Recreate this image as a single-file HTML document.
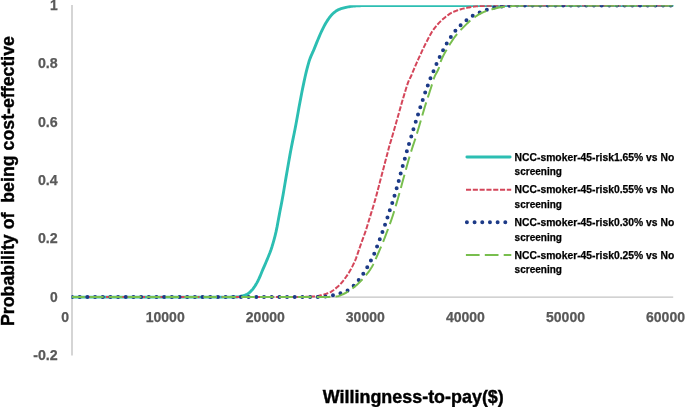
<!DOCTYPE html>
<html lang="en">
<head>
<meta charset="utf-8">
<title>Cost-effectiveness acceptability curves</title>
<style>
html,body{margin:0;padding:0;background:#fff;}
body{width:685px;height:407px;overflow:hidden;}
svg{display:block;}
text{font-family:"Liberation Sans",sans-serif;font-weight:bold;}
.tick{font-size:14.2px;fill:#595959;stroke:#595959;stroke-width:0.25px;}
.title{font-size:18.2px;fill:#000;stroke:#000;stroke-width:0.4px;}
.leg{font-size:10.6px;fill:#000;stroke:#000;stroke-width:0.25px;}
</style>
</head>
<body>
<svg width="685" height="407" viewBox="0 0 685 407">
<rect x="0" y="0" width="685" height="407" fill="#ffffff"/>
<defs><clipPath id="plot"><rect x="71.6" y="5.25" width="603.4" height="352"/></clipPath></defs>
<g stroke="#c3c3c3" stroke-width="1.4" fill="none"><line x1="72" y1="5" x2="72" y2="355.6"/><line x1="72" y1="297.1" x2="673.2" y2="297.1"/></g>
<g clip-path="url(#plot)" fill="none">
<path d="M72.0 297.10 L226.0 297.10 L227.0 297.10 L228.0 297.09 L229.0 297.09 L230.0 297.08 L231.0 297.07 L232.0 297.06 L233.0 297.05 L234.0 297.03 L235.0 297.02 L236.0 297.00 L237.0 296.94 L238.0 296.82 L239.0 296.65 L240.0 296.44 L241.0 296.20 L242.0 295.95 L243.0 295.70 L244.0 295.41 L245.0 295.06 L246.0 294.67 L247.0 294.21 L248.0 293.67 L249.0 292.95 L250.0 292.08 L251.0 291.11 L252.0 290.04 L253.0 288.80 L254.0 287.43 L255.0 285.95 L256.0 284.36 L257.0 282.60 L258.0 280.71 L259.0 278.69 L260.0 276.45 L261.0 274.01 L262.0 271.54 L263.0 269.17 L264.0 266.87 L265.0 264.58 L266.0 262.25 L267.0 259.87 L268.0 257.49 L269.0 255.06 L270.0 252.50 L271.0 249.72 L272.0 246.68 L273.0 243.37 L274.0 239.84 L275.0 236.05 L276.0 231.90 L277.0 227.13 L278.0 221.71 L279.0 216.37 L280.0 211.05 L281.0 205.95 L282.0 200.84 L283.0 195.26 L284.0 189.38 L285.0 183.37 L286.0 177.42 L287.0 171.65 L288.0 165.90 L289.0 160.20 L290.0 154.63 L291.0 149.24 L292.0 144.10 L293.0 139.14 L294.0 134.22 L295.0 129.23 L296.0 124.04 L297.0 118.58 L298.0 112.97 L299.0 107.35 L300.0 101.89 L301.0 96.65 L302.0 91.55 L303.0 86.63 L304.0 81.90 L305.0 77.29 L306.0 72.94 L307.0 68.90 L308.0 65.03 L309.0 61.53 L310.0 58.61 L311.0 56.15 L312.0 53.91 L313.0 51.70 L314.0 49.33 L315.0 46.85 L316.0 44.35 L317.0 41.88 L318.0 39.49 L319.0 37.12 L320.0 34.77 L321.0 32.50 L322.0 30.33 L323.0 28.31 L324.0 26.38 L325.0 24.54 L326.0 22.79 L327.0 21.16 L328.0 19.66 L329.0 18.23 L330.0 16.88 L331.0 15.62 L332.0 14.50 L333.0 13.52 L334.0 12.63 L335.0 11.80 L336.0 11.07 L337.0 10.43 L338.0 9.90 L339.0 9.46 L340.0 9.08 L341.0 8.74 L342.0 8.43 L343.0 8.14 L344.0 7.87 L345.0 7.60 L346.0 7.34 L347.0 7.10 L348.0 6.89 L349.0 6.70 L350.0 6.54 L351.0 6.41 L352.0 6.29 L353.0 6.18 L354.0 6.08 L355.0 5.99 L356.0 5.91 L357.0 5.85 L358.0 5.79 L359.0 5.74 L360.0 5.68 L361.0 5.64 L362.0 5.59 L363.0 5.55 L364.0 5.53 L365.0 5.51 L366.0 5.50 L672.3 5.50" stroke="#2cbeb2" stroke-width="2.9" stroke-linecap="round" stroke-linejoin="round"/>
<path d="M72.0 297.10 L295.0 297.10 L296.0 297.10 L297.0 297.09 L298.0 297.08 L299.0 297.07 L300.0 297.05 L301.0 297.03 L302.0 297.00 L303.0 296.97 L304.0 296.94 L305.0 296.90 L306.0 296.87 L307.0 296.82 L308.0 296.78 L309.0 296.73 L310.0 296.68 L311.0 296.63 L312.0 296.57 L313.0 296.52 L314.0 296.45 L315.0 296.36 L316.0 296.24 L317.0 296.10 L318.0 295.93 L319.0 295.74 L320.0 295.53 L321.0 295.30 L322.0 295.05 L323.0 294.77 L324.0 294.49 L325.0 294.18 L326.0 293.86 L327.0 293.53 L328.0 293.18 L329.0 292.81 L330.0 292.35 L331.0 291.81 L332.0 291.19 L333.0 290.50 L334.0 289.76 L335.0 288.97 L336.0 288.14 L337.0 287.28 L338.0 286.40 L339.0 285.48 L340.0 284.47 L341.0 283.39 L342.0 282.25 L343.0 281.03 L344.0 279.75 L345.0 278.42 L346.0 277.03 L347.0 275.59 L348.0 274.09 L349.0 272.50 L350.0 270.81 L351.0 269.02 L352.0 267.12 L353.0 265.12 L354.0 263.02 L355.0 260.80 L356.0 258.35 L357.0 255.60 L358.0 252.68 L359.0 249.68 L360.0 246.70 L361.0 243.87 L362.0 241.14 L363.0 238.44 L364.0 235.70 L365.0 232.87 L366.0 229.88 L367.0 226.71 L368.0 223.44 L369.0 220.14 L370.0 216.88 L371.0 213.66 L372.0 210.43 L373.0 207.17 L374.0 203.84 L375.0 200.40 L376.0 196.82 L377.0 193.12 L378.0 189.33 L379.0 185.48 L380.0 181.62 L381.0 177.77 L382.0 173.96 L383.0 170.18 L384.0 166.39 L385.0 162.61 L386.0 158.81 L387.0 154.99 L388.0 151.16 L389.0 147.24 L390.0 143.82 L391.0 140.66 L392.0 137.29 L393.0 133.84 L394.0 130.34 L395.0 126.82 L396.0 123.30 L397.0 119.80 L398.0 116.27 L399.0 112.70 L400.0 109.13 L401.0 105.59 L402.0 102.09 L403.0 98.67 L404.0 95.35 L405.0 92.08 L406.0 88.78 L407.0 85.60 L408.0 82.68 L409.0 80.17 L410.0 78.23 L411.0 76.28 L412.0 73.94 L413.0 71.45 L414.0 69.06 L415.0 66.73 L416.0 64.43 L417.0 62.15 L418.0 59.91 L419.0 57.70 L420.0 55.49 L421.0 53.30 L422.0 51.13 L423.0 49.00 L424.0 46.91 L425.0 44.87 L426.0 42.89 L427.0 40.96 L428.0 39.02 L429.0 37.11 L430.0 35.25 L431.0 33.47 L432.0 31.79 L433.0 30.25 L434.0 28.86 L435.0 27.55 L436.0 26.30 L437.0 25.11 L438.0 23.98 L439.0 22.90 L440.0 21.88 L441.0 20.90 L442.0 19.97 L443.0 19.09 L444.0 18.23 L445.0 17.40 L446.0 16.59 L447.0 15.80 L448.0 15.06 L449.0 14.36 L450.0 13.71 L451.0 13.11 L452.0 12.58 L453.0 12.12 L454.0 11.69 L455.0 11.27 L456.0 10.88 L457.0 10.50 L458.0 10.14 L459.0 9.81 L460.0 9.49 L461.0 9.19 L462.0 8.91 L463.0 8.65 L464.0 8.41 L465.0 8.19 L466.0 7.98 L467.0 7.78 L468.0 7.59 L469.0 7.40 L470.0 7.22 L471.0 7.05 L472.0 6.89 L473.0 6.74 L474.0 6.59 L475.0 6.47 L476.0 6.35 L477.0 6.25 L478.0 6.17 L479.0 6.11 L480.0 6.06 L481.0 6.02 L482.0 5.98 L483.0 5.94 L484.0 5.91 L485.0 5.88 L486.0 5.85 L487.0 5.82 L488.0 5.80 L489.0 5.77 L490.0 5.75 L491.0 5.73 L492.0 5.71 L493.0 5.69 L494.0 5.67 L495.0 5.65 L496.0 5.62 L497.0 5.60 L498.0 5.58 L499.0 5.56 L500.0 5.55 L501.0 5.53 L502.0 5.52 L503.0 5.51 L504.0 5.50 L505.0 5.50 L672.3 5.50" stroke="#d4465a" stroke-width="2" stroke-dasharray="5.1 1.7" stroke-linejoin="round"/>
<path d="M72.0 297.10 L310.0 297.10 L311.0 297.10 L312.0 297.09 L313.0 297.07 L314.0 297.05 L315.0 297.02 L316.0 296.99 L317.0 296.95 L318.0 296.91 L319.0 296.86 L320.0 296.81 L321.0 296.75 L322.0 296.69 L323.0 296.63 L324.0 296.57 L325.0 296.50 L326.0 296.41 L327.0 296.29 L328.0 296.15 L329.0 295.98 L330.0 295.79 L331.0 295.59 L332.0 295.38 L333.0 295.17 L334.0 294.96 L335.0 294.74 L336.0 294.50 L337.0 294.24 L338.0 293.97 L339.0 293.68 L340.0 293.38 L341.0 293.07 L342.0 292.73 L343.0 292.39 L344.0 292.02 L345.0 291.62 L346.0 291.19 L347.0 290.72 L348.0 290.20 L349.0 289.61 L350.0 288.92 L351.0 288.15 L352.0 287.32 L353.0 286.43 L354.0 285.50 L355.0 284.49 L356.0 283.37 L357.0 282.17 L358.0 280.92 L359.0 279.65 L360.0 278.38 L361.0 277.07 L362.0 275.71 L363.0 274.29 L364.0 272.79 L365.0 271.19 L366.0 269.49 L367.0 267.74 L368.0 265.97 L369.0 264.16 L370.0 262.31 L371.0 260.39 L372.0 258.40 L373.0 256.34 L374.0 254.17 L375.0 251.84 L376.0 249.30 L377.0 246.65 L378.0 244.02 L379.0 241.35 L380.0 238.67 L381.0 235.99 L382.0 233.31 L383.0 230.57 L384.0 227.80 L385.0 224.96 L386.0 222.02 L387.0 218.97 L388.0 215.88 L389.0 212.72 L390.0 209.60 L391.0 206.68 L392.0 203.81 L393.0 200.72 L394.0 197.34 L395.0 193.92 L396.0 190.52 L397.0 187.05 L398.0 183.47 L399.0 179.80 L400.0 176.01 L401.0 172.23 L402.0 168.58 L403.0 165.00 L404.0 161.48 L405.0 157.96 L406.0 154.33 L407.0 150.71 L408.0 147.23 L409.0 143.86 L410.0 140.61 L411.0 137.45 L412.0 134.14 L413.0 130.63 L414.0 127.25 L415.0 124.11 L416.0 121.02 L417.0 117.82 L418.0 114.59 L419.0 111.35 L420.0 108.11 L421.0 104.98 L422.0 102.02 L423.0 99.10 L424.0 96.11 L425.0 93.14 L426.0 90.27 L427.0 87.52 L428.0 84.81 L429.0 82.09 L430.0 79.37 L431.0 76.80 L432.0 74.46 L433.0 72.24 L434.0 69.98 L435.0 67.60 L436.0 65.17 L437.0 62.83 L438.0 60.62 L439.0 58.50 L440.0 56.42 L441.0 54.36 L442.0 52.33 L443.0 50.35 L444.0 48.43 L445.0 46.54 L446.0 44.71 L447.0 42.94 L448.0 41.28 L449.0 39.69 L450.0 38.17 L451.0 36.70 L452.0 35.28 L453.0 33.89 L454.0 32.54 L455.0 31.25 L456.0 30.03 L457.0 28.88 L458.0 27.78 L459.0 26.72 L460.0 25.71 L461.0 24.75 L462.0 23.83 L463.0 22.96 L464.0 22.12 L465.0 21.32 L466.0 20.54 L467.0 19.79 L468.0 19.05 L469.0 18.32 L470.0 17.60 L471.0 16.89 L472.0 16.22 L473.0 15.59 L474.0 15.01 L475.0 14.50 L476.0 14.02 L477.0 13.59 L478.0 13.17 L479.0 12.78 L480.0 12.39 L481.0 12.00 L482.0 11.60 L483.0 11.20 L484.0 10.80 L485.0 10.40 L486.0 10.02 L487.0 9.66 L488.0 9.32 L489.0 9.01 L490.0 8.71 L491.0 8.43 L492.0 8.15 L493.0 7.90 L494.0 7.66 L495.0 7.44 L496.0 7.25 L497.0 7.09 L498.0 6.94 L499.0 6.80 L500.0 6.67 L501.0 6.56 L502.0 6.45 L503.0 6.35 L504.0 6.25 L505.0 6.16 L506.0 6.06 L507.0 5.97 L508.0 5.89 L509.0 5.82 L510.0 5.76 L511.0 5.71 L512.0 5.68 L513.0 5.65 L514.0 5.62 L515.0 5.60 L516.0 5.57 L517.0 5.55 L518.0 5.53 L519.0 5.52 L520.0 5.51 L521.0 5.50 L522.0 5.50 L672.3 5.50" stroke="#1c3a87" stroke-width="4" stroke-dasharray="0 7.68" stroke-linecap="round" stroke-linejoin="round"/>
<path d="M72.0 297.10 L318.0 297.10 L319.0 297.10 L320.0 297.09 L321.0 297.08 L322.0 297.07 L323.0 297.05 L324.0 297.03 L325.0 297.01 L326.0 296.98 L327.0 296.95 L328.0 296.92 L329.0 296.88 L330.0 296.83 L331.0 296.79 L332.0 296.74 L333.0 296.68 L334.0 296.63 L335.0 296.57 L336.0 296.50 L337.0 296.38 L338.0 296.18 L339.0 295.89 L340.0 295.54 L341.0 295.14 L342.0 294.69 L343.0 294.22 L344.0 293.73 L345.0 293.24 L346.0 292.75 L347.0 292.21 L348.0 291.61 L349.0 290.97 L350.0 290.28 L351.0 289.55 L352.0 288.79 L353.0 288.01 L354.0 287.21 L355.0 286.40 L356.0 285.57 L357.0 284.69 L358.0 283.79 L359.0 282.84 L360.0 281.86 L361.0 280.84 L362.0 279.79 L363.0 278.70 L364.0 277.58 L365.0 276.42 L366.0 275.22 L367.0 273.97 L368.0 272.67 L369.0 271.30 L370.0 269.85 L371.0 268.31 L372.0 266.67 L373.0 264.86 L374.0 262.82 L375.0 260.62 L376.0 258.33 L377.0 256.02 L378.0 253.75 L379.0 251.50 L380.0 249.22 L381.0 246.91 L382.0 244.55 L383.0 242.13 L384.0 239.65 L385.0 237.07 L386.0 234.43 L387.0 231.74 L388.0 229.04 L389.0 226.35 L390.0 223.66 L391.0 220.90 L392.0 218.00 L393.0 214.95 L394.0 211.78 L395.0 208.51 L396.0 205.15 L397.0 201.71 L398.0 198.20 L399.0 194.64 L400.0 191.03 L401.0 187.40 L402.0 183.74 L403.0 180.08 L404.0 176.42 L405.0 172.77 L406.0 169.15 L407.0 165.58 L408.0 162.05 L409.0 158.58 L410.0 155.19 L411.0 151.89 L412.0 148.68 L413.0 145.60 L414.0 142.75 L415.0 139.77 L416.0 136.61 L417.0 133.34 L418.0 130.01 L419.0 126.67 L420.0 123.33 L421.0 119.92 L422.0 116.48 L423.0 113.04 L424.0 109.63 L425.0 106.30 L426.0 103.08 L427.0 99.94 L428.0 96.87 L429.0 93.82 L430.0 90.77 L431.0 87.69 L432.0 84.41 L433.0 81.08 L434.0 78.04 L435.0 75.63 L436.0 73.75 L437.0 71.90 L438.0 70.09 L439.0 67.57 L440.0 63.57 L441.0 60.75 L442.0 58.38 L443.0 56.28 L444.0 54.37 L445.0 52.59 L446.0 50.86 L447.0 49.12 L448.0 47.39 L449.0 45.70 L450.0 44.05 L451.0 42.46 L452.0 40.92 L453.0 39.43 L454.0 38.01 L455.0 36.65 L456.0 35.36 L457.0 34.13 L458.0 32.95 L459.0 31.82 L460.0 30.72 L461.0 29.66 L462.0 28.62 L463.0 27.60 L464.0 26.60 L465.0 25.60 L466.0 24.61 L467.0 23.64 L468.0 22.68 L469.0 21.74 L470.0 20.84 L471.0 19.97 L472.0 19.14 L473.0 18.37 L474.0 17.64 L475.0 16.94 L476.0 16.25 L477.0 15.59 L478.0 14.96 L479.0 14.36 L480.0 13.78 L481.0 13.25 L482.0 12.75 L483.0 12.30 L484.0 11.88 L485.0 11.49 L486.0 11.11 L487.0 10.76 L488.0 10.42 L489.0 10.10 L490.0 9.80 L491.0 9.51 L492.0 9.23 L493.0 8.97 L494.0 8.70 L495.0 8.44 L496.0 8.19 L497.0 7.95 L498.0 7.72 L499.0 7.51 L500.0 7.32 L501.0 7.15 L502.0 7.00 L503.0 6.87 L504.0 6.75 L505.0 6.64 L506.0 6.54 L507.0 6.44 L508.0 6.35 L509.0 6.27 L510.0 6.20 L511.0 6.13 L512.0 6.06 L513.0 5.99 L514.0 5.93 L515.0 5.86 L516.0 5.80 L517.0 5.74 L518.0 5.68 L519.0 5.63 L520.0 5.59 L521.0 5.55 L522.0 5.52 L523.0 5.51 L524.0 5.50 L672.3 5.50" stroke="#78be4e" stroke-width="2" stroke-dasharray="13.7 5.2" stroke-dashoffset="1" stroke-linejoin="round"/>
</g>
<g class="tick" text-anchor="end">
<text x="57.7" y="9.6" textLength="7.7" lengthAdjust="spacingAndGlyphs">1</text>
<text x="57.7" y="68.0" textLength="19.8" lengthAdjust="spacingAndGlyphs">0.8</text>
<text x="57.7" y="126.5" textLength="19.8" lengthAdjust="spacingAndGlyphs">0.6</text>
<text x="57.7" y="184.9" textLength="19.8" lengthAdjust="spacingAndGlyphs">0.4</text>
<text x="57.7" y="243.3" textLength="19.8" lengthAdjust="spacingAndGlyphs">0.2</text>
<text x="57.7" y="301.8" textLength="7.7" lengthAdjust="spacingAndGlyphs">0</text>
<text x="57.7" y="360.2" textLength="24.5" lengthAdjust="spacingAndGlyphs">-0.2</text>
</g>
<g class="tick" text-anchor="middle">
<text x="65.2" y="321.7" textLength="7.8" lengthAdjust="spacingAndGlyphs">0</text>
<text x="165.2" y="321.7" textLength="39.0" lengthAdjust="spacingAndGlyphs">10000</text>
<text x="265.3" y="321.7" textLength="39.0" lengthAdjust="spacingAndGlyphs">20000</text>
<text x="365.3" y="321.7" textLength="39.0" lengthAdjust="spacingAndGlyphs">30000</text>
<text x="465.4" y="321.7" textLength="39.0" lengthAdjust="spacingAndGlyphs">40000</text>
<text x="565.5" y="321.7" textLength="39.0" lengthAdjust="spacingAndGlyphs">50000</text>
<text x="665.5" y="321.7" textLength="39.0" lengthAdjust="spacingAndGlyphs">60000</text>
</g>
<text class="title" x="322.8" y="403" textLength="181" lengthAdjust="spacingAndGlyphs">Willingness-to-pay($)</text>
<text class="title" transform="translate(14.3 326) rotate(-90)" textLength="290" lengthAdjust="spacingAndGlyphs" xml:space="preserve" style="white-space:pre">Probability of  being cost-effective</text>
<g fill="none">
<line x1="466.9" y1="157" x2="510.1" y2="157" stroke="#2cbeb2" stroke-width="2.9" stroke-linecap="round"/>
<line x1="466" y1="189.7" x2="511.2" y2="189.7" stroke="#d4465a" stroke-width="1.85" stroke-dasharray="5.1 1.7"/>
<line x1="466.9" y1="222.3" x2="511.3" y2="222.3" stroke="#1c3a87" stroke-width="4" stroke-dasharray="0 7.68" stroke-linecap="round"/>
<line x1="465.9" y1="255" x2="511.3" y2="255" stroke="#78be4e" stroke-width="2" stroke-dasharray="13.7 5.2"/>
</g>
<g class="leg">
<text x="514.6" y="160.7" textLength="159.6" lengthAdjust="spacingAndGlyphs">NCC-smoker-45-risk1.65% vs No</text>
<text x="514.6" y="175.2" textLength="47.4" lengthAdjust="spacingAndGlyphs">screening</text>
<text x="514.6" y="193.4" textLength="159.6" lengthAdjust="spacingAndGlyphs">NCC-smoker-45-risk0.55% vs No</text>
<text x="514.6" y="207.9" textLength="47.4" lengthAdjust="spacingAndGlyphs">screening</text>
<text x="514.6" y="226.1" textLength="159.6" lengthAdjust="spacingAndGlyphs">NCC-smoker-45-risk0.30% vs No</text>
<text x="514.6" y="240.6" textLength="47.4" lengthAdjust="spacingAndGlyphs">screening</text>
<text x="514.6" y="258.8" textLength="159.6" lengthAdjust="spacingAndGlyphs">NCC-smoker-45-risk0.25% vs No</text>
<text x="514.6" y="273.3" textLength="47.4" lengthAdjust="spacingAndGlyphs">screening</text>
</g>
</svg>
</body>
</html>
